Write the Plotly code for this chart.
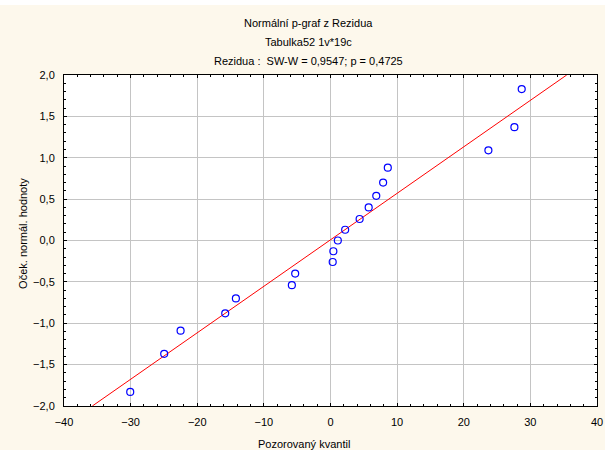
import plotly.graph_objects as go

# Observed residual quantiles (sorted) and expected normal scores
observed = [-30.06, -24.96, -22.5, -15.8, -14.2, -5.8, -5.3, 0.33, 0.43, 1.1,
            2.2, 4.37, 5.73, 6.87, 7.9, 8.6, 23.7, 27.6, 28.7]
expected = [-1.83, -1.37, -1.09, -0.88, -0.70, -0.54, -0.40, -0.26, -0.13, 0.0,
            0.13, 0.26, 0.40, 0.54, 0.70, 0.88, 1.09, 1.37, 1.83]

# Reference line: expected = (observed - center) / spread
line_center = -0.15
line_spread = 17.8

x_ticks = [-40, -30, -20, -10, 0, 10, 20, 30, 40]
y_ticks = [-2.0, -1.5, -1.0, -0.5, 0.0, 0.5, 1.0, 1.5, 2.0]

title_lines = ["Normální p-graf z Rezidua",
               "Tabulka52 1v*19c",
               "Rezidua :  SW-W = 0,9547; p = 0,4725"]
x_title = "Pozorovaný kvantil"
y_title = "Oček. normál. hodnoty"

y_lo, y_hi = y_ticks[0], y_ticks[-1]
line_x = [line_center + y_lo * line_spread, line_center + y_hi * line_spread]
line_y = [y_lo, y_hi]

font = "Liberation Sans, Arial, sans-serif"
bg = "#FDF8EC"

fig = go.Figure()
fig.add_trace(go.Scatter(x=line_x, y=line_y, mode="lines",
                         line=dict(color="#FF0000", width=1),
                         hoverinfo="skip", showlegend=False))
fig.add_trace(go.Scatter(x=observed, y=expected, mode="markers",
                         marker=dict(symbol="circle-open", size=7,
                                     color="#0000FF", line=dict(width=1.2)),
                         showlegend=False, cliponaxis=False))

axis_common = dict(
    automargin=False,
    showgrid=True, gridcolor="#C4C4C4", gridwidth=1,
    zeroline=False, showline=True, linecolor="black", linewidth=1,
    mirror="ticks", ticks="inside", ticklen=3, tickcolor="black",
    tickfont=dict(family=font, size=11, color="black"),
)

fig.update_xaxes(range=[x_ticks[0], x_ticks[-1]], tickvals=x_ticks,
                 ticklabelstandoff=6,
                 minor=dict(ticks="inside", dtick=2, ticklen=2,
                            tickcolor="black", showgrid=False),
                 **axis_common)
fig.update_yaxes(range=[y_lo, y_hi], tickvals=y_ticks, tickformat=".1f",
                 ticklabelstandoff=6,
                 minor=dict(ticks="inside", dtick=0.1, ticklen=2,
                            tickcolor="black", showgrid=False),
                 **axis_common)

annotations = []
for i, t in enumerate(title_lines):
    annotations.append(dict(text=t, xref="paper", yref="paper",
                            x=0.458, y=1 + (52 - 19 * i) / 331.0,
                            xanchor="center", yanchor="middle", showarrow=False,
                            font=dict(family=font, size=11, color="black")))
annotations.append(dict(text=x_title, xref="paper", yref="paper",
                        x=0.45, y=-38 / 331.0, xanchor="center",
                        yanchor="middle", showarrow=False,
                        font=dict(family=font, size=11, color="black")))
annotations.append(dict(text=y_title, xref="paper", yref="paper",
                        x=-41 / 533.0, y=0.52, xanchor="center",
                        yanchor="middle", textangle=-90, showarrow=False,
                        font=dict(family=font, size=11, color="black")))

fig.update_layout(
    width=605, height=450,
    margin=dict(l=64, r=8, t=75, b=44, autoexpand=False),
    paper_bgcolor=bg, plot_bgcolor="white",
    separators=",.",
    annotations=annotations,
    shapes=[dict(type="rect", xref="paper", yref="paper",
                 x0=-64 / 533.0, x1=1 + 8 / 533.0,
                 y0=1 + 70 / 331.0, y1=1 + 76 / 331.0,
                 fillcolor="white", line=dict(width=0), layer="below")],
)

fig.write_html("out.html")
